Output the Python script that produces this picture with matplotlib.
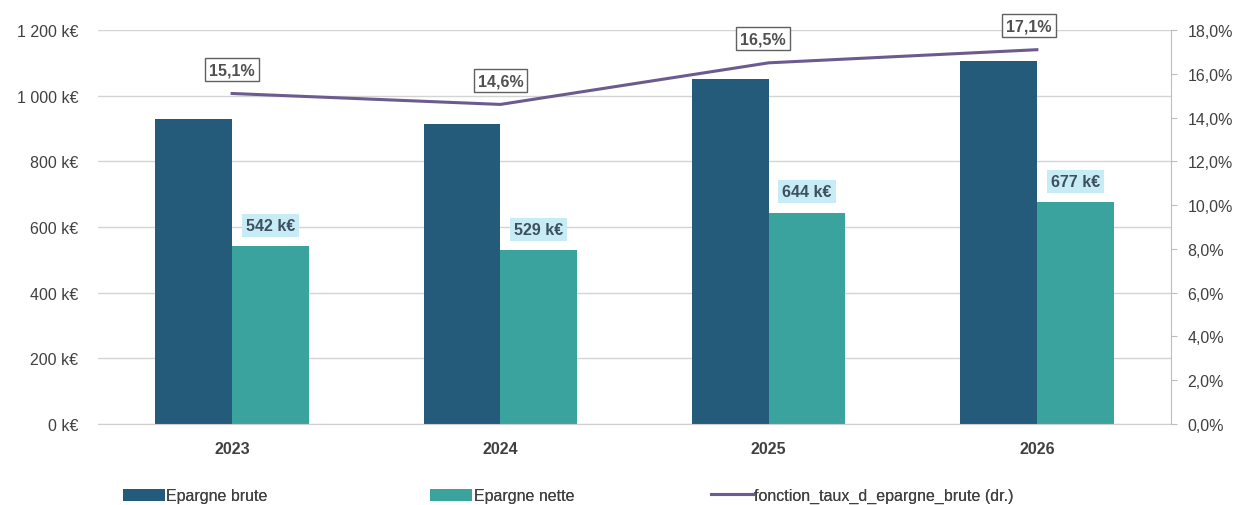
"""Epargne brute / nette bar chart with savings-rate line on the right axis."""
import matplotlib
matplotlib.use("Agg")
import matplotlib.pyplot as plt
import numpy as np
from matplotlib.ticker import FuncFormatter

plt.rcParams["font.family"] = ["Liberation Sans", "DejaVu Sans"]

years = ["2023", "2024", "2025", "2026"]
epargne_brute = [928, 914, 1052, 1106]
epargne_nette = [542, 529, 644, 677]
taux = [15.1, 14.6, 16.5, 17.1]
nette_labels = ["542 k€", "529 k€", "644 k€", "677 k€"]
taux_labels = ["15,1%", "14,6%", "16,5%", "17,1%"]

c_brute = "#245a7a"
c_nette = "#3aa39e"
c_line = "#6b5b8e"
c_text = "#404040"

fig = plt.figure(figsize=(12.43, 5.06), dpi=100)
ax = fig.add_axes([98 / 1243, 1 - 425 / 506, (1171 - 98) / 1243, (425 - 31) / 506])
ax2 = ax.twinx()

x = np.arange(len(years))
w = 0.286
ax.bar(x - w / 2, epargne_brute, w, color=c_brute, zorder=2, label="Epargne brute")
ax.bar(x + w / 2, epargne_nette, w, color=c_nette, zorder=2, label="Epargne nette")

ax.set_xlim(-0.5, 3.5)
ax.set_ylim(0, 1200)
ax.set_yticks(np.arange(0, 1201, 200))
ax.yaxis.set_major_formatter(FuncFormatter(
    lambda v, _: (f"{int(v):,} k€").replace(",", " ")))
ax.grid(axis="y", color="#d4d4d4", linewidth=1, zorder=0)
ax.set_axisbelow(True)
ax.set_xticks(x)
ax.set_xticklabels(years, fontsize=11.5, fontweight="bold", color=c_text)
ax.tick_params(axis="x", length=0, pad=12)
ax.tick_params(axis="y", length=0, pad=14, labelsize=11.5, labelcolor=c_text)
for s in ["top", "left", "right"]:
    ax.spines[s].set_visible(False)
ax.spines["bottom"].set_color("#cfcfcf")

for xi, v, lab in zip(x, epargne_nette, nette_labels):
    ax.text(xi + w / 2, v + 40, lab, ha="center", va="bottom", fontsize=11.5,
            fontweight="bold", color="#3d5060",
            bbox=dict(boxstyle="square,pad=0.25", fc="#c8ecf6", ec="none"))

ax2.plot(x, taux, color=c_line, linewidth=2.2, zorder=3,
         label="fonction_taux_d_epargne_brute (dr.)")
ax2.set_ylim(0, 18)
ax2.set_yticks(np.arange(0, 18.1, 2))
ax2.yaxis.set_major_formatter(FuncFormatter(lambda v, _: f"{v:.1f}%".replace(".", ",")))
ax2.tick_params(axis="y", length=4, color="#bdbdbd", pad=8, labelsize=11.5,
                labelcolor=c_text)
for s in ["top", "left", "bottom"]:
    ax2.spines[s].set_visible(False)
ax2.spines["right"].set_color("#bdbdbd")

offsets = [0.0, 0.0, -0.02, -0.03]
for xi, t, lab, dx in zip(x, taux, taux_labels, offsets):
    ax2.text(xi + dx, t + 0.75, lab, ha="center", va="bottom", fontsize=11.5,
             fontweight="bold", color="#505050",
             bbox=dict(boxstyle="square,pad=0.25", fc="white", ec="#606060", lw=1))

# one legend per entry, placed by hand along the bottom edge
h1, l1 = ax.get_legend_handles_labels()
h2, l2 = ax2.get_legend_handles_labels()
handles = h1 + h2
labels = l1 + l2
anchors = [109, 416, 697]
for h, l, a in zip(handles, labels, anchors):
    leg = fig.legend([h], [l], loc="lower left", bbox_to_anchor=(a / 1243, -0.025),
                     frameon=False, fontsize=11.5, handlelength=2.6, handleheight=0.8,
                     handletextpad=0.1, labelcolor=c_text)
    fig.add_artist(leg)

fig.savefig("out.png", dpi=100)
